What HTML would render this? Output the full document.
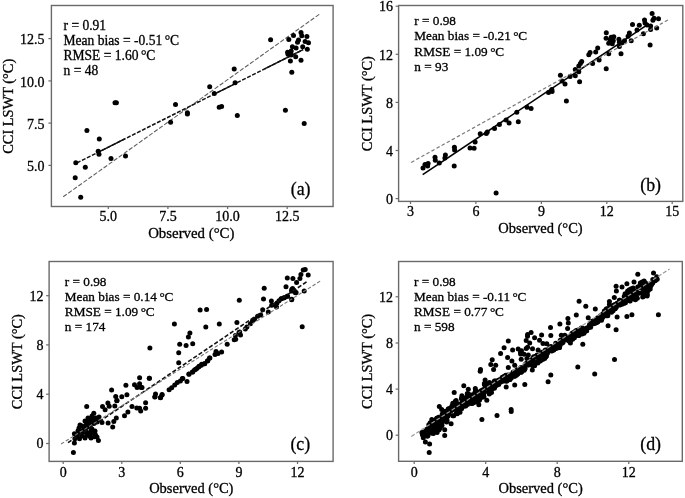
<!DOCTYPE html><html><head><meta charset="utf-8"><style>html,body{margin:0;padding:0;background:#fff;width:685px;height:498px;overflow:hidden}svg{display:block;filter:blur(0.3px)}text{font-family:"Liberation Serif", serif;fill:#000;stroke:#000;stroke-width:0.3px}</style></head><body>
<svg width="685" height="498" viewBox="0 0 685 498">
<g><polyline points="63.2,196.8 319.6,14.1" fill="none" stroke="#606060" stroke-width="1.1" stroke-dasharray="4.4 1.8"/><polyline points="76.9,162.9 303.1,49.6" fill="none" stroke="#111" stroke-width="1.5" stroke-dasharray="4 1.6"/><polyline points="98.5,152.1 124.8,138.9" fill="none" stroke="#111" stroke-width="1.5" /><polyline points="214.8,93.8 234.9,83.8" fill="none" stroke="#111" stroke-width="1.5" /><polyline points="264.6,68.9 303.1,49.6" fill="none" stroke="#111" stroke-width="1.5" /><circle cx="115.0" cy="102.7" r="2.50"/><circle cx="116.4" cy="102.8" r="2.50"/><circle cx="175.5" cy="104.4" r="2.50"/><circle cx="86.9" cy="130.5" r="2.50"/><circle cx="99.3" cy="138.9" r="2.50"/><circle cx="98.2" cy="151.2" r="2.50"/><circle cx="99.0" cy="154.3" r="2.50"/><circle cx="111.0" cy="158.5" r="2.50"/><circle cx="125.5" cy="155.9" r="2.50"/><circle cx="75.8" cy="162.7" r="2.50"/><circle cx="85.3" cy="167.2" r="2.50"/><circle cx="75.2" cy="177.8" r="2.50"/><circle cx="80.7" cy="197.2" r="2.50"/><circle cx="170.6" cy="122.3" r="2.50"/><circle cx="187.4" cy="112.8" r="2.50"/><circle cx="187.4" cy="114.1" r="2.50"/><circle cx="288.8" cy="39.5" r="2.50"/><circle cx="293.5" cy="35.4" r="2.50"/><circle cx="301.0" cy="32.4" r="2.50"/><circle cx="301.8" cy="35.8" r="2.50"/><circle cx="306.9" cy="36.4" r="2.50"/><circle cx="298.5" cy="39.9" r="2.50"/><circle cx="297.5" cy="42.3" r="2.50"/><circle cx="305.1" cy="41.5" r="2.50"/><circle cx="308.5" cy="42.7" r="2.50"/><circle cx="292.4" cy="46.8" r="2.50"/><circle cx="296.1" cy="47.9" r="2.50"/><circle cx="302.7" cy="46.7" r="2.50"/><circle cx="307.3" cy="49.3" r="2.50"/><circle cx="287.6" cy="52.3" r="2.50"/><circle cx="291.2" cy="51.1" r="2.50"/><circle cx="288.0" cy="54.3" r="2.50"/><circle cx="291.2" cy="55.1" r="2.50"/><circle cx="295.7" cy="56.7" r="2.50"/><circle cx="290.4" cy="61.1" r="2.50"/><circle cx="301.0" cy="60.3" r="2.50"/><circle cx="291.8" cy="72.2" r="2.50"/><circle cx="270.6" cy="39.7" r="2.50"/><circle cx="234.2" cy="69.1" r="2.50"/><circle cx="235.1" cy="82.8" r="2.50"/><circle cx="209.7" cy="86.7" r="2.50"/><circle cx="214.3" cy="93.6" r="2.50"/><circle cx="219.2" cy="107.3" r="2.50"/><circle cx="221.6" cy="106.6" r="2.50"/><circle cx="237.3" cy="115.5" r="2.50"/><circle cx="285.4" cy="110.2" r="2.50"/><circle cx="304.2" cy="123.4" r="2.50"/><rect x="51.4" y="5.5" width="281.7" height="201.0" fill="none" stroke="#6a6a6a" stroke-width="1.4"/><line x1="108.3" y1="206.5" x2="108.3" y2="209.1" stroke="#6a6a6a" stroke-width="1.2"/><text x="108.3" y="221.3" font-size="14" text-anchor="middle">5.0</text><line x1="167.9" y1="206.5" x2="167.9" y2="209.1" stroke="#6a6a6a" stroke-width="1.2"/><text x="167.9" y="221.3" font-size="14" text-anchor="middle">7.5</text><line x1="227.6" y1="206.5" x2="227.6" y2="209.1" stroke="#6a6a6a" stroke-width="1.2"/><text x="227.6" y="221.3" font-size="14" text-anchor="middle">10.0</text><line x1="287.2" y1="206.5" x2="287.2" y2="209.1" stroke="#6a6a6a" stroke-width="1.2"/><text x="287.2" y="221.3" font-size="14" text-anchor="middle">12.5</text><line x1="48.4" y1="165.4" x2="51.4" y2="165.4" stroke="#6a6a6a" stroke-width="1.2"/><text x="44.5" y="171.0" font-size="14" text-anchor="end">5.0</text><line x1="48.4" y1="123.1" x2="51.4" y2="123.1" stroke="#6a6a6a" stroke-width="1.2"/><text x="44.5" y="128.7" font-size="14" text-anchor="end">7.5</text><line x1="48.4" y1="80.9" x2="51.4" y2="80.9" stroke="#6a6a6a" stroke-width="1.2"/><text x="44.5" y="86.5" font-size="14" text-anchor="end">10.0</text><line x1="48.4" y1="38.6" x2="51.4" y2="38.6" stroke="#6a6a6a" stroke-width="1.2"/><text x="44.5" y="44.2" font-size="14" text-anchor="end">12.5</text><text x="191.3" y="238.0" font-size="14.85" text-anchor="middle">Observed (°C)</text><text transform="translate(12.5,106.3) rotate(-90)" font-size="14.40" text-anchor="middle">CCI LSWT (°C)</text><text x="63.5" y="29.9" font-size="13.55">r = 0.91</text><text x="63.5" y="44.9" font-size="13.55">Mean bias = -0.51 <tspan dx="-0.8">°</tspan><tspan dx="-0.3">C</tspan></text><text x="63.5" y="59.9" font-size="13.55">RMSE = 1.60 <tspan dx="-0.8">°</tspan><tspan dx="-0.3">C</tspan></text><text x="63.5" y="74.9" font-size="13.55">n = 48</text><text transform="translate(300.6,194.6) scale(0.94,1)" font-size="19" text-anchor="middle">(a)</text></g>
<g><polyline points="422.7,174.6 645.3,26.2" fill="none" stroke="#000" stroke-width="1.6" /><circle cx="652.1" cy="13.4" r="2.50"/><circle cx="654.0" cy="18.3" r="2.50"/><circle cx="658.5" cy="18.8" r="2.50"/><circle cx="652.9" cy="20.3" r="2.50"/><circle cx="644.5" cy="20.1" r="2.50"/><circle cx="645.0" cy="22.9" r="2.50"/><circle cx="647.0" cy="24.9" r="2.50"/><circle cx="650.6" cy="25.9" r="2.50"/><circle cx="650.6" cy="29.5" r="2.50"/><circle cx="656.7" cy="28.0" r="2.50"/><circle cx="632.5" cy="24.6" r="2.50"/><circle cx="639.3" cy="25.2" r="2.50"/><circle cx="637.0" cy="30.0" r="2.50"/><circle cx="643.4" cy="33.8" r="2.50"/><circle cx="629.4" cy="33.1" r="2.50"/><circle cx="628.1" cy="36.2" r="2.50"/><circle cx="631.2" cy="40.8" r="2.50"/><circle cx="624.5" cy="40.8" r="2.50"/><circle cx="606.3" cy="32.8" r="2.50"/><circle cx="606.1" cy="38.2" r="2.50"/><circle cx="611.2" cy="37.2" r="2.50"/><circle cx="613.8" cy="36.7" r="2.50"/><circle cx="610.2" cy="39.7" r="2.50"/><circle cx="613.3" cy="40.8" r="2.50"/><circle cx="608.7" cy="43.3" r="2.50"/><circle cx="612.3" cy="43.8" r="2.50"/><circle cx="618.9" cy="39.2" r="2.50"/><circle cx="619.4" cy="42.3" r="2.50"/><circle cx="622.0" cy="42.8" r="2.50"/><circle cx="619.4" cy="46.4" r="2.50"/><circle cx="650.1" cy="45.1" r="2.50"/><circle cx="621.0" cy="53.8" r="2.50"/><circle cx="608.7" cy="53.8" r="2.50"/><circle cx="597.7" cy="48.0" r="2.50"/><circle cx="595.7" cy="52.1" r="2.50"/><circle cx="590.1" cy="52.5" r="2.50"/><circle cx="588.8" cy="54.8" r="2.50"/><circle cx="599.1" cy="59.9" r="2.50"/><circle cx="592.6" cy="63.5" r="2.50"/><circle cx="606.2" cy="68.8" r="2.50"/><circle cx="581.7" cy="61.5" r="2.50"/><circle cx="580.4" cy="63.5" r="2.50"/><circle cx="578.8" cy="66.1" r="2.50"/><circle cx="575.3" cy="69.6" r="2.50"/><circle cx="578.8" cy="71.7" r="2.50"/><circle cx="575.3" cy="75.8" r="2.50"/><circle cx="570.1" cy="76.6" r="2.50"/><circle cx="560.4" cy="75.3" r="2.50"/><circle cx="562.0" cy="80.9" r="2.50"/><circle cx="565.0" cy="84.1" r="2.50"/><circle cx="579.6" cy="81.7" r="2.50"/><circle cx="551.8" cy="89.6" r="2.50"/><circle cx="548.5" cy="92.4" r="2.50"/><circle cx="527.0" cy="107.2" r="2.50"/><circle cx="531.1" cy="108.5" r="2.50"/><circle cx="516.8" cy="112.3" r="2.50"/><circle cx="518.3" cy="121.8" r="2.50"/><circle cx="506.1" cy="120.0" r="2.50"/><circle cx="509.1" cy="123.0" r="2.50"/><circle cx="499.4" cy="124.6" r="2.50"/><circle cx="494.5" cy="128.4" r="2.50"/><circle cx="487.3" cy="132.0" r="2.50"/><circle cx="486.3" cy="133.5" r="2.50"/><circle cx="480.2" cy="133.7" r="2.50"/><circle cx="475.1" cy="141.9" r="2.50"/><circle cx="470.0" cy="148.0" r="2.50"/><circle cx="474.1" cy="148.3" r="2.50"/><circle cx="454.4" cy="147.3" r="2.50"/><circle cx="454.6" cy="149.9" r="2.50"/><circle cx="445.4" cy="155.0" r="2.50"/><circle cx="444.9" cy="158.0" r="2.50"/><circle cx="435.0" cy="157.2" r="2.50"/><circle cx="423.0" cy="168.0" r="2.50"/><circle cx="425.0" cy="164.4" r="2.50"/><circle cx="428.1" cy="163.4" r="2.50"/><circle cx="427.6" cy="166.0" r="2.50"/><circle cx="435.3" cy="160.3" r="2.50"/><circle cx="439.3" cy="162.9" r="2.50"/><circle cx="454.2" cy="166.0" r="2.50"/><circle cx="496.1" cy="192.9" r="2.50"/><circle cx="552.1" cy="91.4" r="2.50"/><circle cx="566.4" cy="101.0" r="2.50"/><polyline points="411.2,162.4 668.7,19.6" fill="none" stroke="#7a7a7a" stroke-width="1.2" stroke-dasharray="3.5 2.3"/><rect x="398.6" y="5.5" width="284.2" height="195.9" fill="none" stroke="#6a6a6a" stroke-width="1.4"/><line x1="410.5" y1="201.4" x2="410.5" y2="204.0" stroke="#6a6a6a" stroke-width="1.2"/><text x="410.5" y="215.6" font-size="14" text-anchor="middle">3</text><line x1="475.9" y1="201.4" x2="475.9" y2="204.0" stroke="#6a6a6a" stroke-width="1.2"/><text x="475.9" y="215.6" font-size="14" text-anchor="middle">6</text><line x1="541.4" y1="201.4" x2="541.4" y2="204.0" stroke="#6a6a6a" stroke-width="1.2"/><text x="541.4" y="215.6" font-size="14" text-anchor="middle">9</text><line x1="606.8" y1="201.4" x2="606.8" y2="204.0" stroke="#6a6a6a" stroke-width="1.2"/><text x="606.8" y="215.6" font-size="14" text-anchor="middle">12</text><line x1="672.2" y1="201.4" x2="672.2" y2="204.0" stroke="#6a6a6a" stroke-width="1.2"/><text x="672.2" y="215.6" font-size="14" text-anchor="middle">15</text><line x1="395.6" y1="198.6" x2="398.6" y2="198.6" stroke="#6a6a6a" stroke-width="1.2"/><text x="393.1" y="203.8" font-size="14" text-anchor="end">0</text><line x1="395.6" y1="150.5" x2="398.6" y2="150.5" stroke="#6a6a6a" stroke-width="1.2"/><text x="393.1" y="155.7" font-size="14" text-anchor="end">4</text><line x1="395.6" y1="102.4" x2="398.6" y2="102.4" stroke="#6a6a6a" stroke-width="1.2"/><text x="393.1" y="107.6" font-size="14" text-anchor="end">8</text><line x1="395.6" y1="54.3" x2="398.6" y2="54.3" stroke="#6a6a6a" stroke-width="1.2"/><text x="393.1" y="59.5" font-size="14" text-anchor="end">12</text><line x1="395.6" y1="6.2" x2="398.6" y2="6.2" stroke="#6a6a6a" stroke-width="1.2"/><text x="393.1" y="11.4" font-size="14" text-anchor="end">16</text><text x="540.5" y="233.0" font-size="14.50" text-anchor="middle">Observed (°C)</text><text transform="translate(372.0,103.7) rotate(-90)" font-size="14.40" text-anchor="middle">CCI LSWT (°C)</text><text x="414.3" y="25.3" font-size="13.25">r = 0.98</text><text x="414.3" y="40.4" font-size="13.25">Mean bias = -0.21 <tspan dx="-0.8">°</tspan><tspan dx="-0.3">C</tspan></text><text x="414.3" y="55.5" font-size="13.25">RMSE = 1.09 <tspan dx="-0.8">°</tspan><tspan dx="-0.3">C</tspan></text><text x="414.3" y="70.6" font-size="13.25">n = 93</text><text transform="translate(650.6,190.8) scale(0.94,1)" font-size="19" text-anchor="middle">(b)</text></g>
<g><circle cx="86.7" cy="406.6" r="2.50"/><circle cx="93.8" cy="413.3" r="2.50"/><circle cx="102.5" cy="406.6" r="2.50"/><circle cx="105.1" cy="409.7" r="2.50"/><circle cx="107.9" cy="403.1" r="2.50"/><circle cx="109.2" cy="406.3" r="2.50"/><circle cx="114.8" cy="406.1" r="2.50"/><circle cx="116.8" cy="400.8" r="2.50"/><circle cx="124.5" cy="415.8" r="2.50"/><circle cx="116.3" cy="417.9" r="2.50"/><circle cx="113.8" cy="421.5" r="2.50"/><circle cx="108.1" cy="423.0" r="2.50"/><circle cx="102.0" cy="422.5" r="2.50"/><circle cx="112.7" cy="427.1" r="2.50"/><circle cx="95.9" cy="417.9" r="2.50"/><circle cx="90.3" cy="418.4" r="2.50"/><circle cx="87.7" cy="421.5" r="2.50"/><circle cx="93.8" cy="423.5" r="2.50"/><circle cx="88.2" cy="424.0" r="2.50"/><circle cx="82.1" cy="426.1" r="2.50"/><circle cx="79.0" cy="428.1" r="2.50"/><circle cx="78.0" cy="430.7" r="2.50"/><circle cx="90.3" cy="427.6" r="2.50"/><circle cx="85.7" cy="430.7" r="2.50"/><circle cx="90.8" cy="431.7" r="2.50"/><circle cx="74.4" cy="433.7" r="2.50"/><circle cx="86.7" cy="435.3" r="2.50"/><circle cx="95.4" cy="434.7" r="2.50"/><circle cx="89.7" cy="436.3" r="2.50"/><circle cx="94.3" cy="436.8" r="2.50"/><circle cx="74.9" cy="438.8" r="2.50"/><circle cx="79.5" cy="438.8" r="2.50"/><circle cx="98.4" cy="440.4" r="2.50"/><circle cx="74.4" cy="442.9" r="2.50"/><circle cx="73.4" cy="452.5" r="2.50"/><circle cx="84.0" cy="428.0" r="2.50"/><circle cx="87.0" cy="427.0" r="2.50"/><circle cx="92.0" cy="429.0" r="2.50"/><circle cx="84.0" cy="432.0" r="2.50"/><circle cx="88.0" cy="433.0" r="2.50"/><circle cx="93.0" cy="433.0" r="2.50"/><circle cx="81.0" cy="431.0" r="2.50"/><circle cx="90.0" cy="424.0" r="2.50"/><circle cx="86.0" cy="425.0" r="2.50"/><circle cx="92.0" cy="420.0" r="2.50"/><circle cx="89.0" cy="421.0" r="2.50"/><circle cx="97.0" cy="437.0" r="2.50"/><circle cx="82.0" cy="436.0" r="2.50"/><circle cx="80.0" cy="434.0" r="2.50"/><circle cx="77.0" cy="436.0" r="2.50"/><circle cx="85.0" cy="438.0" r="2.50"/><circle cx="91.0" cy="438.0" r="2.50"/><circle cx="95.0" cy="431.0" r="2.50"/><circle cx="85.0" cy="421.0" r="2.50"/><circle cx="98.0" cy="420.0" r="2.50"/><circle cx="99.0" cy="417.0" r="2.50"/><circle cx="80.0" cy="425.0" r="2.50"/><circle cx="94.0" cy="420.0" r="2.50"/><circle cx="97.0" cy="422.0" r="2.50"/><circle cx="92.0" cy="416.0" r="2.50"/><circle cx="88.0" cy="418.0" r="2.50"/><circle cx="111.6" cy="390.1" r="2.50"/><circle cx="125.9" cy="385.3" r="2.50"/><circle cx="115.7" cy="396.5" r="2.50"/><circle cx="121.8" cy="396.7" r="2.50"/><circle cx="126.9" cy="394.8" r="2.50"/><circle cx="139.6" cy="377.7" r="2.50"/><circle cx="149.3" cy="378.2" r="2.50"/><circle cx="134.5" cy="384.8" r="2.50"/><circle cx="139.6" cy="383.8" r="2.50"/><circle cx="137.1" cy="387.4" r="2.50"/><circle cx="141.2" cy="387.6" r="2.50"/><circle cx="117.0" cy="400.5" r="2.50"/><circle cx="132.0" cy="406.6" r="2.50"/><circle cx="136.8" cy="408.0" r="2.50"/><circle cx="139.6" cy="408.3" r="2.50"/><circle cx="140.7" cy="410.9" r="2.50"/><circle cx="145.6" cy="402.7" r="2.50"/><circle cx="145.6" cy="408.3" r="2.50"/><circle cx="127.9" cy="411.9" r="2.50"/><circle cx="155.5" cy="394.0" r="2.50"/><circle cx="155.0" cy="396.8" r="2.50"/><circle cx="162.1" cy="394.5" r="2.50"/><circle cx="160.6" cy="397.4" r="2.50"/><circle cx="154.8" cy="396.9" r="2.50"/><circle cx="162.0" cy="394.9" r="2.50"/><circle cx="160.4" cy="397.7" r="2.50"/><circle cx="169.1" cy="389.7" r="2.50"/><circle cx="171.7" cy="387.7" r="2.50"/><circle cx="174.7" cy="385.1" r="2.50"/><circle cx="177.3" cy="382.6" r="2.50"/><circle cx="180.4" cy="381.1" r="2.50"/><circle cx="182.4" cy="378.5" r="2.50"/><circle cx="187.0" cy="381.6" r="2.50"/><circle cx="189.0" cy="374.2" r="2.50"/><circle cx="192.6" cy="371.9" r="2.50"/><circle cx="195.7" cy="369.3" r="2.50"/><circle cx="198.8" cy="366.8" r="2.50"/><circle cx="201.3" cy="365.2" r="2.50"/><circle cx="204.4" cy="363.7" r="2.50"/><circle cx="207.4" cy="361.1" r="2.50"/><circle cx="209.5" cy="358.1" r="2.50"/><circle cx="142.0" cy="387.5" r="2.50"/><circle cx="149.4" cy="378.3" r="2.50"/><circle cx="188.9" cy="374.1" r="2.50"/><circle cx="192.5" cy="372.1" r="2.50"/><circle cx="194.5" cy="369.9" r="2.50"/><circle cx="197.1" cy="368.3" r="2.50"/><circle cx="199.1" cy="366.3" r="2.50"/><circle cx="201.7" cy="364.2" r="2.50"/><circle cx="204.7" cy="363.7" r="2.50"/><circle cx="207.8" cy="360.7" r="2.50"/><circle cx="209.9" cy="358.1" r="2.50"/><circle cx="215.0" cy="354.5" r="2.50"/><circle cx="216.0" cy="351.5" r="2.50"/><circle cx="218.0" cy="353.5" r="2.50"/><circle cx="221.6" cy="352.0" r="2.50"/><circle cx="227.2" cy="344.3" r="2.50"/><circle cx="234.2" cy="339.7" r="2.50"/><circle cx="235.4" cy="335.6" r="2.50"/><circle cx="239.0" cy="332.6" r="2.50"/><circle cx="182.8" cy="378.5" r="2.50"/><circle cx="189.9" cy="333.1" r="2.50"/><circle cx="188.4" cy="337.0" r="2.50"/><circle cx="179.7" cy="344.3" r="2.50"/><circle cx="186.1" cy="345.5" r="2.50"/><circle cx="192.7" cy="343.8" r="2.50"/><circle cx="178.7" cy="352.7" r="2.50"/><circle cx="178.7" cy="362.7" r="2.50"/><circle cx="174.4" cy="324.1" r="2.50"/><circle cx="149.9" cy="348.1" r="2.50"/><circle cx="200.1" cy="310.1" r="2.50"/><circle cx="206.6" cy="309.6" r="2.50"/><circle cx="205.8" cy="327.0" r="2.50"/><circle cx="219.3" cy="323.9" r="2.50"/><circle cx="236.9" cy="322.4" r="2.50"/><circle cx="239.3" cy="300.2" r="2.50"/><circle cx="264.2" cy="288.3" r="2.50"/><circle cx="286.0" cy="286.8" r="2.50"/><circle cx="263.5" cy="299.1" r="2.50"/><circle cx="271.4" cy="301.1" r="2.50"/><circle cx="271.7" cy="305.2" r="2.50"/><circle cx="275.0" cy="304.9" r="2.50"/><circle cx="277.0" cy="302.9" r="2.50"/><circle cx="279.0" cy="300.8" r="2.50"/><circle cx="281.6" cy="298.8" r="2.50"/><circle cx="284.2" cy="297.8" r="2.50"/><circle cx="287.2" cy="296.2" r="2.50"/><circle cx="276.5" cy="307.0" r="2.50"/><circle cx="291.8" cy="299.3" r="2.50"/><circle cx="291.8" cy="289.6" r="2.50"/><circle cx="293.4" cy="291.1" r="2.50"/><circle cx="295.4" cy="292.7" r="2.50"/><circle cx="262.7" cy="309.7" r="2.50"/><circle cx="268.3" cy="312.1" r="2.50"/><circle cx="260.7" cy="315.1" r="2.50"/><circle cx="257.6" cy="316.2" r="2.50"/><circle cx="254.5" cy="319.2" r="2.50"/><circle cx="252.5" cy="320.8" r="2.50"/><circle cx="250.4" cy="323.8" r="2.50"/><circle cx="246.9" cy="326.9" r="2.50"/><circle cx="245.3" cy="328.9" r="2.50"/><circle cx="239.7" cy="332.0" r="2.50"/><circle cx="303.2" cy="270.0" r="2.50"/><circle cx="305.2" cy="269.5" r="2.50"/><circle cx="308.2" cy="275.1" r="2.50"/><circle cx="300.9" cy="274.6" r="2.50"/><circle cx="299.9" cy="278.6" r="2.50"/><circle cx="296.6" cy="282.6" r="2.50"/><circle cx="292.9" cy="278.6" r="2.50"/><circle cx="287.3" cy="278.1" r="2.50"/><circle cx="292.6" cy="288.6" r="2.50"/><circle cx="291.6" cy="291.1" r="2.50"/><circle cx="294.1" cy="290.6" r="2.50"/><circle cx="296.1" cy="292.6" r="2.50"/><circle cx="304.2" cy="290.9" r="2.50"/><circle cx="291.6" cy="299.7" r="2.50"/><circle cx="287.6" cy="296.2" r="2.50"/><circle cx="284.1" cy="297.7" r="2.50"/><circle cx="281.1" cy="298.7" r="2.50"/><circle cx="302.2" cy="326.8" r="2.50"/><circle cx="240.5" cy="335.1" r="2.50"/><circle cx="235.7" cy="339.2" r="2.50"/><polyline points="68.0,442.7 307.7,281.1" fill="none" stroke="#111" stroke-width="1.6" stroke-dasharray="4.2 2.1"/><polyline points="61.1,444.0 320.2,281.1" fill="none" stroke="#777" stroke-width="1.1" stroke-dasharray="3.5 2"/><rect x="49.1" y="261.5" width="284.0" height="199.9" fill="none" stroke="#6a6a6a" stroke-width="1.4"/><line x1="63.2" y1="461.4" x2="63.2" y2="464.0" stroke="#6a6a6a" stroke-width="1.2"/><text x="63.2" y="476.5" font-size="14" text-anchor="middle">0</text><line x1="121.8" y1="461.4" x2="121.8" y2="464.0" stroke="#6a6a6a" stroke-width="1.2"/><text x="121.8" y="476.5" font-size="14" text-anchor="middle">3</text><line x1="180.3" y1="461.4" x2="180.3" y2="464.0" stroke="#6a6a6a" stroke-width="1.2"/><text x="180.3" y="476.5" font-size="14" text-anchor="middle">6</text><line x1="238.9" y1="461.4" x2="238.9" y2="464.0" stroke="#6a6a6a" stroke-width="1.2"/><text x="238.9" y="476.5" font-size="14" text-anchor="middle">9</text><line x1="297.5" y1="461.4" x2="297.5" y2="464.0" stroke="#6a6a6a" stroke-width="1.2"/><text x="297.5" y="476.5" font-size="14" text-anchor="middle">12</text><line x1="46.1" y1="443.5" x2="49.1" y2="443.5" stroke="#6a6a6a" stroke-width="1.2"/><text x="43.6" y="448.3" font-size="14" text-anchor="end">0</text><line x1="46.1" y1="394.2" x2="49.1" y2="394.2" stroke="#6a6a6a" stroke-width="1.2"/><text x="43.6" y="399.0" font-size="14" text-anchor="end">4</text><line x1="46.1" y1="344.9" x2="49.1" y2="344.9" stroke="#6a6a6a" stroke-width="1.2"/><text x="43.6" y="349.7" font-size="14" text-anchor="end">8</text><line x1="46.1" y1="295.7" x2="49.1" y2="295.7" stroke="#6a6a6a" stroke-width="1.2"/><text x="43.6" y="300.5" font-size="14" text-anchor="end">12</text><text x="191.3" y="493.0" font-size="14.50" text-anchor="middle">Observed (°C)</text><text transform="translate(22.4,361.7) rotate(-90)" font-size="14.40" text-anchor="middle">CCI LSWT (°C)</text><text x="64.8" y="286.0" font-size="13.25">r = 0.98</text><text x="64.8" y="301.0" font-size="13.25">Mean bias = 0.14 <tspan dx="-0.8">°</tspan><tspan dx="-0.3">C</tspan></text><text x="64.8" y="316.0" font-size="13.25">RMSE = 1.09 <tspan dx="-0.8">°</tspan><tspan dx="-0.3">C</tspan></text><text x="64.8" y="331.0" font-size="13.25">n = 174</text><text transform="translate(300.3,450.4) scale(0.94,1)" font-size="19" text-anchor="middle">(c)</text></g>
<g><circle cx="429.2" cy="452.4" r="2.50"/><circle cx="444.7" cy="429.7" r="2.50"/><circle cx="444.7" cy="435.4" r="2.50"/><circle cx="451.1" cy="423.7" r="2.50"/><circle cx="454.2" cy="392.5" r="2.50"/><circle cx="439.3" cy="406.4" r="2.50"/><circle cx="441.7" cy="409.5" r="2.50"/><circle cx="443.5" cy="411.9" r="2.50"/><circle cx="423.3" cy="437.8" r="2.50"/><circle cx="425.4" cy="442.0" r="2.50"/><circle cx="429.6" cy="444.1" r="2.50"/><circle cx="508.3" cy="341.1" r="2.50"/><circle cx="504.1" cy="347.7" r="2.50"/><circle cx="512.6" cy="350.1" r="2.50"/><circle cx="518.2" cy="349.1" r="2.50"/><circle cx="500.6" cy="353.4" r="2.50"/><circle cx="507.6" cy="357.6" r="2.50"/><circle cx="511.9" cy="361.1" r="2.50"/><circle cx="514.7" cy="365.3" r="2.50"/><circle cx="508.3" cy="367.4" r="2.50"/><circle cx="492.2" cy="359.7" r="2.50"/><circle cx="490.8" cy="364.6" r="2.50"/><circle cx="495.7" cy="365.3" r="2.50"/><circle cx="493.6" cy="369.5" r="2.50"/><circle cx="480.2" cy="371.2" r="2.50"/><circle cx="485.1" cy="380.1" r="2.50"/><circle cx="484.4" cy="383.6" r="2.50"/><circle cx="463.8" cy="385.7" r="2.50"/><circle cx="468.3" cy="389.2" r="2.50"/><circle cx="475.3" cy="388.5" r="2.50"/><circle cx="486.8" cy="400.2" r="2.50"/><circle cx="514.7" cy="385.0" r="2.50"/><circle cx="506.2" cy="387.1" r="2.50"/><circle cx="478.8" cy="404.7" r="2.50"/><circle cx="511.1" cy="409.6" r="2.50"/><circle cx="481.9" cy="419.5" r="2.50"/><circle cx="497.0" cy="415.4" r="2.50"/><circle cx="511.2" cy="411.5" r="2.50"/><circle cx="524.8" cy="384.4" r="2.50"/><circle cx="548.1" cy="381.8" r="2.50"/><circle cx="576.3" cy="314.9" r="2.50"/><circle cx="567.9" cy="318.4" r="2.50"/><circle cx="568.3" cy="322.9" r="2.50"/><circle cx="559.9" cy="324.1" r="2.50"/><circle cx="550.5" cy="327.6" r="2.50"/><circle cx="567.6" cy="328.6" r="2.50"/><circle cx="550.8" cy="335.6" r="2.50"/><circle cx="561.3" cy="335.3" r="2.50"/><circle cx="564.8" cy="335.3" r="2.50"/><circle cx="531.1" cy="332.5" r="2.50"/><circle cx="527.6" cy="334.6" r="2.50"/><circle cx="534.6" cy="337.8" r="2.50"/><circle cx="541.6" cy="335.0" r="2.50"/><circle cx="539.5" cy="340.2" r="2.50"/><circle cx="526.2" cy="340.6" r="2.50"/><circle cx="529.7" cy="343.0" r="2.50"/><circle cx="543.0" cy="343.5" r="2.50"/><circle cx="546.8" cy="343.7" r="2.50"/><circle cx="527.6" cy="347.3" r="2.50"/><circle cx="532.5" cy="348.7" r="2.50"/><circle cx="538.1" cy="350.1" r="2.50"/><circle cx="520.5" cy="352.2" r="2.50"/><circle cx="524.1" cy="354.3" r="2.50"/><circle cx="528.3" cy="355.0" r="2.50"/><circle cx="521.2" cy="359.2" r="2.50"/><circle cx="570.4" cy="343.0" r="2.50"/><circle cx="577.8" cy="366.9" r="2.50"/><circle cx="550.8" cy="374.9" r="2.50"/><circle cx="526.2" cy="348.5" r="2.50"/><circle cx="520.6" cy="354.1" r="2.50"/><circle cx="480.5" cy="369.6" r="2.50"/><circle cx="521.5" cy="350.7" r="2.50"/><circle cx="527.5" cy="336.2" r="2.50"/><circle cx="526.9" cy="358.5" r="2.50"/><circle cx="532.3" cy="369.9" r="2.50"/><circle cx="533.6" cy="356.7" r="2.50"/><circle cx="585.8" cy="306.2" r="2.50"/><circle cx="588.2" cy="317.7" r="2.50"/><circle cx="582.8" cy="344.2" r="2.50"/><circle cx="594.7" cy="374.0" r="2.50"/><circle cx="614.5" cy="359.5" r="2.50"/><circle cx="608.1" cy="325.7" r="2.50"/><circle cx="616.1" cy="329.8" r="2.50"/><circle cx="637.8" cy="274.2" r="2.50"/><circle cx="634.0" cy="281.9" r="2.50"/><circle cx="626.9" cy="283.8" r="2.50"/><circle cx="622.0" cy="286.9" r="2.50"/><circle cx="616.1" cy="286.2" r="2.50"/><circle cx="616.4" cy="291.1" r="2.50"/><circle cx="614.3" cy="297.4" r="2.50"/><circle cx="609.4" cy="301.6" r="2.50"/><circle cx="609.4" cy="304.4" r="2.50"/><circle cx="579.1" cy="301.2" r="2.50"/><circle cx="595.3" cy="309.1" r="2.50"/><circle cx="617.1" cy="317.1" r="2.50"/><circle cx="626.9" cy="316.4" r="2.50"/><circle cx="631.9" cy="314.7" r="2.50"/><circle cx="653.5" cy="273.0" r="2.50"/><circle cx="656.7" cy="276.8" r="2.50"/><circle cx="652.8" cy="279.6" r="2.50"/><circle cx="650.2" cy="289.0" r="2.50"/><circle cx="647.1" cy="296.0" r="2.50"/><circle cx="658.4" cy="314.7" r="2.50"/><circle cx="604.3" cy="311.1" r="2.50"/><circle cx="653.9" cy="280.7" r="2.50"/><circle cx="498.3" cy="380.3" r="2.50"/><circle cx="575.3" cy="331.4" r="2.50"/><circle cx="548.2" cy="350.2" r="2.50"/><circle cx="435.7" cy="426.1" r="2.50"/><circle cx="430.8" cy="427.6" r="2.50"/><circle cx="438.5" cy="417.3" r="2.50"/><circle cx="522.0" cy="371.0" r="2.50"/><circle cx="451.2" cy="407.7" r="2.50"/><circle cx="569.8" cy="341.1" r="2.50"/><circle cx="557.9" cy="344.5" r="2.50"/><circle cx="651.9" cy="283.1" r="2.50"/><circle cx="624.2" cy="296.5" r="2.50"/><circle cx="456.0" cy="402.0" r="2.50"/><circle cx="494.6" cy="387.0" r="2.50"/><circle cx="464.6" cy="402.3" r="2.50"/><circle cx="572.5" cy="335.1" r="2.50"/><circle cx="551.0" cy="346.6" r="2.50"/><circle cx="436.0" cy="420.9" r="2.50"/><circle cx="582.2" cy="330.3" r="2.50"/><circle cx="496.0" cy="384.4" r="2.50"/><circle cx="528.7" cy="363.1" r="2.50"/><circle cx="609.1" cy="311.9" r="2.50"/><circle cx="479.5" cy="396.8" r="2.50"/><circle cx="545.7" cy="356.7" r="2.50"/><circle cx="593.8" cy="321.3" r="2.50"/><circle cx="652.8" cy="282.4" r="2.50"/><circle cx="520.5" cy="371.4" r="2.50"/><circle cx="457.8" cy="406.6" r="2.50"/><circle cx="431.2" cy="431.0" r="2.50"/><circle cx="602.1" cy="317.5" r="2.50"/><circle cx="628.2" cy="293.9" r="2.50"/><circle cx="585.7" cy="329.3" r="2.50"/><circle cx="558.6" cy="344.6" r="2.50"/><circle cx="619.8" cy="305.1" r="2.50"/><circle cx="533.7" cy="363.6" r="2.50"/><circle cx="436.3" cy="428.7" r="2.50"/><circle cx="574.4" cy="337.8" r="2.50"/><circle cx="615.6" cy="305.1" r="2.50"/><circle cx="512.9" cy="375.3" r="2.50"/><circle cx="427.3" cy="431.1" r="2.50"/><circle cx="461.6" cy="397.9" r="2.50"/><circle cx="435.9" cy="430.1" r="2.50"/><circle cx="452.5" cy="406.8" r="2.50"/><circle cx="514.1" cy="375.9" r="2.50"/><circle cx="441.0" cy="420.5" r="2.50"/><circle cx="551.4" cy="351.1" r="2.50"/><circle cx="614.9" cy="308.4" r="2.50"/><circle cx="487.6" cy="388.3" r="2.50"/><circle cx="506.5" cy="381.2" r="2.50"/><circle cx="647.5" cy="284.4" r="2.50"/><circle cx="463.5" cy="398.0" r="2.50"/><circle cx="477.0" cy="396.7" r="2.50"/><circle cx="560.7" cy="342.0" r="2.50"/><circle cx="423.0" cy="433.1" r="2.50"/><circle cx="509.0" cy="377.4" r="2.50"/><circle cx="646.5" cy="291.3" r="2.50"/><circle cx="543.4" cy="356.6" r="2.50"/><circle cx="581.2" cy="328.0" r="2.50"/><circle cx="633.8" cy="297.3" r="2.50"/><circle cx="627.9" cy="299.5" r="2.50"/><circle cx="514.4" cy="372.5" r="2.50"/><circle cx="446.4" cy="417.7" r="2.50"/><circle cx="436.7" cy="418.2" r="2.50"/><circle cx="471.2" cy="394.9" r="2.50"/><circle cx="502.1" cy="377.5" r="2.50"/><circle cx="422.1" cy="432.5" r="2.50"/><circle cx="445.9" cy="414.5" r="2.50"/><circle cx="428.0" cy="435.4" r="2.50"/><circle cx="566.6" cy="337.1" r="2.50"/><circle cx="481.4" cy="393.0" r="2.50"/><circle cx="507.8" cy="374.9" r="2.50"/><circle cx="621.9" cy="304.2" r="2.50"/><circle cx="531.7" cy="362.9" r="2.50"/><circle cx="442.2" cy="414.2" r="2.50"/><circle cx="502.7" cy="378.2" r="2.50"/><circle cx="617.2" cy="303.3" r="2.50"/><circle cx="427.4" cy="436.3" r="2.50"/><circle cx="546.4" cy="350.2" r="2.50"/><circle cx="549.9" cy="347.1" r="2.50"/><circle cx="546.4" cy="356.1" r="2.50"/><circle cx="625.3" cy="299.7" r="2.50"/><circle cx="483.5" cy="390.4" r="2.50"/><circle cx="461.3" cy="408.6" r="2.50"/><circle cx="547.4" cy="353.1" r="2.50"/><circle cx="499.6" cy="379.8" r="2.50"/><circle cx="613.1" cy="310.8" r="2.50"/><circle cx="622.8" cy="302.3" r="2.50"/><circle cx="614.7" cy="307.9" r="2.50"/><circle cx="475.4" cy="397.1" r="2.50"/><circle cx="505.7" cy="375.3" r="2.50"/><circle cx="428.6" cy="427.9" r="2.50"/><circle cx="483.0" cy="394.7" r="2.50"/><circle cx="647.3" cy="288.1" r="2.50"/><circle cx="642.7" cy="297.0" r="2.50"/><circle cx="646.9" cy="287.0" r="2.50"/><circle cx="473.9" cy="394.2" r="2.50"/><circle cx="468.3" cy="395.0" r="2.50"/><circle cx="569.0" cy="341.1" r="2.50"/><circle cx="619.9" cy="302.2" r="2.50"/><circle cx="575.8" cy="335.5" r="2.50"/><circle cx="442.0" cy="422.6" r="2.50"/><circle cx="636.3" cy="296.6" r="2.50"/><circle cx="598.7" cy="319.3" r="2.50"/><circle cx="464.0" cy="406.3" r="2.50"/><circle cx="500.3" cy="382.3" r="2.50"/><circle cx="650.8" cy="284.8" r="2.50"/><circle cx="516.5" cy="375.0" r="2.50"/><circle cx="592.7" cy="321.5" r="2.50"/><circle cx="451.9" cy="406.0" r="2.50"/><circle cx="635.1" cy="297.3" r="2.50"/><circle cx="456.4" cy="412.8" r="2.50"/><circle cx="652.9" cy="282.3" r="2.50"/><circle cx="504.5" cy="379.2" r="2.50"/><circle cx="452.8" cy="403.2" r="2.50"/><circle cx="650.6" cy="285.9" r="2.50"/><circle cx="546.0" cy="356.5" r="2.50"/><circle cx="524.2" cy="370.2" r="2.50"/><circle cx="616.6" cy="304.3" r="2.50"/><circle cx="481.3" cy="392.6" r="2.50"/><circle cx="478.6" cy="397.9" r="2.50"/><circle cx="483.1" cy="391.9" r="2.50"/><circle cx="452.9" cy="415.8" r="2.50"/><circle cx="505.3" cy="378.4" r="2.50"/><circle cx="559.4" cy="347.5" r="2.50"/><circle cx="521.1" cy="372.2" r="2.50"/><circle cx="540.1" cy="357.8" r="2.50"/><circle cx="545.3" cy="350.1" r="2.50"/><circle cx="525.6" cy="364.0" r="2.50"/><circle cx="422.9" cy="434.9" r="2.50"/><circle cx="462.6" cy="402.8" r="2.50"/><circle cx="592.8" cy="322.8" r="2.50"/><circle cx="498.8" cy="382.0" r="2.50"/><circle cx="552.8" cy="349.6" r="2.50"/><circle cx="447.0" cy="416.2" r="2.50"/><circle cx="480.5" cy="393.4" r="2.50"/><circle cx="603.9" cy="315.7" r="2.50"/><circle cx="554.3" cy="348.5" r="2.50"/><circle cx="636.9" cy="291.9" r="2.50"/><circle cx="566.3" cy="339.7" r="2.50"/><circle cx="542.6" cy="357.7" r="2.50"/><circle cx="528.5" cy="365.1" r="2.50"/><circle cx="534.6" cy="365.7" r="2.50"/><circle cx="586.7" cy="330.7" r="2.50"/><circle cx="643.9" cy="284.7" r="2.50"/><circle cx="553.8" cy="349.9" r="2.50"/><circle cx="619.8" cy="300.2" r="2.50"/><circle cx="450.6" cy="411.0" r="2.50"/><circle cx="439.1" cy="419.2" r="2.50"/><circle cx="439.2" cy="425.6" r="2.50"/><circle cx="606.6" cy="315.8" r="2.50"/><circle cx="458.4" cy="409.8" r="2.50"/><circle cx="577.5" cy="330.6" r="2.50"/><circle cx="629.9" cy="300.8" r="2.50"/><circle cx="473.7" cy="402.8" r="2.50"/><circle cx="515.8" cy="372.3" r="2.50"/><circle cx="655.1" cy="280.4" r="2.50"/><circle cx="460.0" cy="404.2" r="2.50"/><circle cx="543.4" cy="354.1" r="2.50"/><circle cx="468.1" cy="396.4" r="2.50"/><circle cx="592.1" cy="321.3" r="2.50"/><circle cx="552.5" cy="347.8" r="2.50"/><circle cx="426.3" cy="430.6" r="2.50"/><circle cx="568.9" cy="338.3" r="2.50"/><circle cx="437.1" cy="432.4" r="2.50"/><circle cx="607.7" cy="315.7" r="2.50"/><circle cx="446.7" cy="412.7" r="2.50"/><circle cx="431.3" cy="432.7" r="2.50"/><circle cx="485.7" cy="384.9" r="2.50"/><circle cx="521.4" cy="371.9" r="2.50"/><circle cx="614.9" cy="305.3" r="2.50"/><circle cx="457.2" cy="413.7" r="2.50"/><circle cx="556.4" cy="347.3" r="2.50"/><circle cx="443.1" cy="412.8" r="2.50"/><circle cx="584.1" cy="329.1" r="2.50"/><circle cx="439.1" cy="429.8" r="2.50"/><circle cx="571.4" cy="338.8" r="2.50"/><circle cx="441.7" cy="425.7" r="2.50"/><circle cx="437.7" cy="430.0" r="2.50"/><circle cx="528.9" cy="363.3" r="2.50"/><circle cx="552.2" cy="350.8" r="2.50"/><circle cx="485.1" cy="385.0" r="2.50"/><circle cx="546.1" cy="351.2" r="2.50"/><circle cx="447.8" cy="410.6" r="2.50"/><circle cx="433.9" cy="421.8" r="2.50"/><circle cx="495.5" cy="383.0" r="2.50"/><circle cx="600.9" cy="316.8" r="2.50"/><circle cx="539.8" cy="355.0" r="2.50"/><circle cx="503.7" cy="376.4" r="2.50"/><circle cx="481.0" cy="390.8" r="2.50"/><circle cx="594.6" cy="321.8" r="2.50"/><circle cx="466.6" cy="398.5" r="2.50"/><circle cx="642.1" cy="282.1" r="2.50"/><circle cx="614.9" cy="306.2" r="2.50"/><circle cx="538.6" cy="361.3" r="2.50"/><circle cx="514.6" cy="373.2" r="2.50"/><circle cx="584.0" cy="333.3" r="2.50"/><circle cx="502.7" cy="380.9" r="2.50"/><circle cx="588.4" cy="327.8" r="2.50"/><circle cx="517.3" cy="370.4" r="2.50"/><circle cx="434.8" cy="420.2" r="2.50"/><circle cx="438.7" cy="427.2" r="2.50"/><circle cx="482.2" cy="390.5" r="2.50"/><circle cx="441.9" cy="425.3" r="2.50"/><circle cx="627.0" cy="298.6" r="2.50"/><circle cx="488.4" cy="386.0" r="2.50"/><circle cx="491.0" cy="386.1" r="2.50"/><circle cx="459.1" cy="405.0" r="2.50"/><circle cx="484.0" cy="396.8" r="2.50"/><circle cx="651.1" cy="284.9" r="2.50"/><circle cx="479.6" cy="400.1" r="2.50"/><circle cx="494.9" cy="383.7" r="2.50"/><circle cx="422.3" cy="433.2" r="2.50"/><circle cx="533.8" cy="362.0" r="2.50"/><circle cx="469.3" cy="398.6" r="2.50"/><circle cx="423.2" cy="432.2" r="2.50"/><circle cx="443.1" cy="417.6" r="2.50"/><circle cx="431.8" cy="419.6" r="2.50"/><circle cx="493.6" cy="382.5" r="2.50"/><circle cx="559.9" cy="344.5" r="2.50"/><circle cx="598.8" cy="320.1" r="2.50"/><circle cx="590.6" cy="327.2" r="2.50"/><circle cx="513.7" cy="372.5" r="2.50"/><circle cx="653.9" cy="281.0" r="2.50"/><circle cx="592.5" cy="323.2" r="2.50"/><circle cx="432.3" cy="433.1" r="2.50"/><circle cx="632.1" cy="296.0" r="2.50"/><circle cx="594.8" cy="322.7" r="2.50"/><circle cx="454.8" cy="409.0" r="2.50"/><circle cx="540.8" cy="360.1" r="2.50"/><circle cx="611.5" cy="311.1" r="2.50"/><circle cx="559.5" cy="347.4" r="2.50"/><circle cx="582.8" cy="331.9" r="2.50"/><circle cx="476.2" cy="391.3" r="2.50"/><circle cx="453.3" cy="407.6" r="2.50"/><circle cx="446.7" cy="420.0" r="2.50"/><circle cx="553.5" cy="348.2" r="2.50"/><circle cx="569.5" cy="339.3" r="2.50"/><circle cx="537.2" cy="355.1" r="2.50"/><circle cx="609.9" cy="311.8" r="2.50"/><circle cx="540.4" cy="357.7" r="2.50"/><circle cx="577.3" cy="330.3" r="2.50"/><circle cx="595.5" cy="320.2" r="2.50"/><circle cx="439.5" cy="419.2" r="2.50"/><circle cx="593.8" cy="321.0" r="2.50"/><circle cx="596.2" cy="322.8" r="2.50"/><circle cx="538.3" cy="357.7" r="2.50"/><circle cx="534.8" cy="363.2" r="2.50"/><circle cx="602.6" cy="317.3" r="2.50"/><circle cx="573.4" cy="332.6" r="2.50"/><circle cx="456.7" cy="403.6" r="2.50"/><circle cx="597.0" cy="319.5" r="2.50"/><circle cx="555.7" cy="343.3" r="2.50"/><circle cx="436.3" cy="421.7" r="2.50"/><circle cx="580.3" cy="333.0" r="2.50"/><circle cx="581.1" cy="329.8" r="2.50"/><circle cx="543.6" cy="355.1" r="2.50"/><circle cx="531.8" cy="359.6" r="2.50"/><circle cx="632.5" cy="290.5" r="2.50"/><circle cx="652.3" cy="283.2" r="2.50"/><circle cx="426.1" cy="431.9" r="2.50"/><circle cx="615.1" cy="308.8" r="2.50"/><circle cx="527.8" cy="363.3" r="2.50"/><circle cx="471.4" cy="403.2" r="2.50"/><circle cx="471.6" cy="399.2" r="2.50"/><circle cx="455.4" cy="408.7" r="2.50"/><circle cx="646.4" cy="283.9" r="2.50"/><circle cx="615.2" cy="306.4" r="2.50"/><circle cx="630.9" cy="297.3" r="2.50"/><circle cx="476.5" cy="401.5" r="2.50"/><circle cx="536.5" cy="355.8" r="2.50"/><circle cx="422.8" cy="433.5" r="2.50"/><circle cx="528.2" cy="363.4" r="2.50"/><circle cx="455.1" cy="406.0" r="2.50"/><circle cx="496.4" cy="385.6" r="2.50"/><circle cx="422.4" cy="434.6" r="2.50"/><circle cx="619.6" cy="300.3" r="2.50"/><circle cx="640.2" cy="293.1" r="2.50"/><circle cx="634.3" cy="290.9" r="2.50"/><circle cx="509.7" cy="375.7" r="2.50"/><circle cx="657.2" cy="279.2" r="2.50"/><circle cx="506.9" cy="377.7" r="2.50"/><circle cx="486.8" cy="383.7" r="2.50"/><circle cx="446.0" cy="420.8" r="2.50"/><circle cx="489.3" cy="394.0" r="2.50"/><circle cx="480.7" cy="393.1" r="2.50"/><circle cx="542.3" cy="353.5" r="2.50"/><circle cx="509.9" cy="379.5" r="2.50"/><circle cx="630.2" cy="298.8" r="2.50"/><circle cx="570.6" cy="340.3" r="2.50"/><circle cx="643.5" cy="289.3" r="2.50"/><circle cx="591.5" cy="321.8" r="2.50"/><circle cx="594.5" cy="321.5" r="2.50"/><circle cx="599.3" cy="319.7" r="2.50"/><circle cx="489.4" cy="382.4" r="2.50"/><circle cx="640.3" cy="283.1" r="2.50"/><circle cx="533.2" cy="360.9" r="2.50"/><circle cx="492.1" cy="388.8" r="2.50"/><circle cx="651.9" cy="283.3" r="2.50"/><circle cx="576.5" cy="332.1" r="2.50"/><circle cx="553.2" cy="347.1" r="2.50"/><circle cx="461.4" cy="398.8" r="2.50"/><circle cx="471.0" cy="402.9" r="2.50"/><circle cx="539.1" cy="355.8" r="2.50"/><circle cx="635.4" cy="299.7" r="2.50"/><circle cx="528.0" cy="362.2" r="2.50"/><circle cx="467.3" cy="393.4" r="2.50"/><circle cx="502.5" cy="377.4" r="2.50"/><circle cx="478.3" cy="394.3" r="2.50"/><circle cx="556.1" cy="348.5" r="2.50"/><circle cx="598.5" cy="319.0" r="2.50"/><circle cx="519.5" cy="370.3" r="2.50"/><circle cx="510.8" cy="374.6" r="2.50"/><circle cx="436.6" cy="421.6" r="2.50"/><circle cx="649.9" cy="284.0" r="2.50"/><circle cx="540.5" cy="358.4" r="2.50"/><circle cx="625.2" cy="294.8" r="2.50"/><circle cx="485.8" cy="386.5" r="2.50"/><circle cx="516.1" cy="371.8" r="2.50"/><circle cx="646.7" cy="293.3" r="2.50"/><circle cx="627.6" cy="291.0" r="2.50"/><circle cx="429.6" cy="432.7" r="2.50"/><circle cx="632.9" cy="293.7" r="2.50"/><circle cx="560.3" cy="340.2" r="2.50"/><circle cx="514.2" cy="376.2" r="2.50"/><circle cx="616.4" cy="307.0" r="2.50"/><circle cx="651.0" cy="284.2" r="2.50"/><circle cx="447.7" cy="410.6" r="2.50"/><circle cx="545.0" cy="356.2" r="2.50"/><circle cx="643.7" cy="292.2" r="2.50"/><circle cx="574.5" cy="336.3" r="2.50"/><circle cx="529.7" cy="364.6" r="2.50"/><circle cx="431.3" cy="432.8" r="2.50"/><circle cx="476.8" cy="401.8" r="2.50"/><circle cx="574.0" cy="333.7" r="2.50"/><circle cx="452.1" cy="407.1" r="2.50"/><circle cx="571.8" cy="337.8" r="2.50"/><circle cx="448.4" cy="409.2" r="2.50"/><circle cx="545.5" cy="354.6" r="2.50"/><circle cx="513.4" cy="372.0" r="2.50"/><circle cx="563.5" cy="338.2" r="2.50"/><circle cx="493.0" cy="384.8" r="2.50"/><circle cx="647.8" cy="290.4" r="2.50"/><circle cx="630.1" cy="294.8" r="2.50"/><circle cx="477.3" cy="394.0" r="2.50"/><circle cx="648.2" cy="290.5" r="2.50"/><circle cx="494.4" cy="381.0" r="2.50"/><circle cx="539.4" cy="359.5" r="2.50"/><circle cx="520.9" cy="367.5" r="2.50"/><circle cx="579.2" cy="335.0" r="2.50"/><circle cx="475.4" cy="391.2" r="2.50"/><circle cx="501.6" cy="379.5" r="2.50"/><circle cx="582.7" cy="328.3" r="2.50"/><circle cx="609.7" cy="311.8" r="2.50"/><circle cx="540.9" cy="354.5" r="2.50"/><circle cx="650.4" cy="284.8" r="2.50"/><circle cx="615.1" cy="305.0" r="2.50"/><circle cx="474.1" cy="400.4" r="2.50"/><circle cx="491.5" cy="392.5" r="2.50"/><circle cx="538.8" cy="355.7" r="2.50"/><circle cx="474.6" cy="396.2" r="2.50"/><circle cx="578.7" cy="335.3" r="2.50"/><circle cx="456.5" cy="406.0" r="2.50"/><circle cx="472.1" cy="403.4" r="2.50"/><circle cx="455.4" cy="401.3" r="2.50"/><circle cx="436.2" cy="423.8" r="2.50"/><circle cx="633.5" cy="298.8" r="2.50"/><circle cx="594.6" cy="323.6" r="2.50"/><circle cx="641.4" cy="286.1" r="2.50"/><circle cx="465.7" cy="406.0" r="2.50"/><circle cx="597.8" cy="317.8" r="2.50"/><circle cx="578.5" cy="331.7" r="2.50"/><circle cx="510.0" cy="375.0" r="2.50"/><circle cx="461.9" cy="395.8" r="2.50"/><circle cx="487.9" cy="387.4" r="2.50"/><circle cx="647.0" cy="284.0" r="2.50"/><circle cx="649.1" cy="284.7" r="2.50"/><circle cx="506.0" cy="380.8" r="2.50"/><circle cx="615.6" cy="305.8" r="2.50"/><circle cx="433.6" cy="426.4" r="2.50"/><circle cx="509.8" cy="379.4" r="2.50"/><circle cx="467.5" cy="396.9" r="2.50"/><circle cx="633.2" cy="288.0" r="2.50"/><circle cx="518.7" cy="372.8" r="2.50"/><circle cx="602.6" cy="313.9" r="2.50"/><circle cx="430.2" cy="422.7" r="2.50"/><circle cx="638.7" cy="286.8" r="2.50"/><circle cx="598.0" cy="321.6" r="2.50"/><circle cx="501.9" cy="378.6" r="2.50"/><circle cx="647.5" cy="290.1" r="2.50"/><circle cx="483.7" cy="394.0" r="2.50"/><circle cx="496.5" cy="382.1" r="2.50"/><circle cx="422.9" cy="434.7" r="2.50"/><circle cx="637.8" cy="293.6" r="2.50"/><circle cx="644.1" cy="281.0" r="2.50"/><circle cx="477.1" cy="396.6" r="2.50"/><circle cx="647.3" cy="294.4" r="2.50"/><circle cx="513.0" cy="372.4" r="2.50"/><circle cx="523.3" cy="367.8" r="2.50"/><circle cx="640.6" cy="283.9" r="2.50"/><circle cx="611.0" cy="310.8" r="2.50"/><circle cx="615.8" cy="307.2" r="2.50"/><circle cx="565.0" cy="339.2" r="2.50"/><circle cx="497.3" cy="382.2" r="2.50"/><circle cx="606.2" cy="309.0" r="2.50"/><circle cx="468.5" cy="401.6" r="2.50"/><circle cx="480.2" cy="392.2" r="2.50"/><circle cx="430.0" cy="430.2" r="2.50"/><circle cx="498.7" cy="384.6" r="2.50"/><circle cx="630.1" cy="301.0" r="2.50"/><circle cx="484.4" cy="384.4" r="2.50"/><circle cx="444.7" cy="417.5" r="2.50"/><circle cx="589.2" cy="326.1" r="2.50"/><circle cx="477.2" cy="396.0" r="2.50"/><circle cx="568.1" cy="339.9" r="2.50"/><circle cx="598.1" cy="321.3" r="2.50"/><circle cx="578.5" cy="330.0" r="2.50"/><circle cx="620.0" cy="300.9" r="2.50"/><circle cx="555.5" cy="345.6" r="2.50"/><circle cx="595.8" cy="319.8" r="2.50"/><circle cx="480.3" cy="393.4" r="2.50"/><circle cx="458.1" cy="412.6" r="2.50"/><circle cx="558.2" cy="343.9" r="2.50"/><circle cx="515.3" cy="376.1" r="2.50"/><circle cx="541.5" cy="354.4" r="2.50"/><circle cx="612.4" cy="309.1" r="2.50"/><circle cx="655.4" cy="280.3" r="2.50"/><circle cx="533.8" cy="364.9" r="2.50"/><circle cx="620.0" cy="304.8" r="2.50"/><circle cx="431.5" cy="424.3" r="2.50"/><circle cx="450.1" cy="408.6" r="2.50"/><circle cx="651.1" cy="284.9" r="2.50"/><circle cx="641.1" cy="287.0" r="2.50"/><circle cx="626.0" cy="296.8" r="2.50"/><circle cx="483.2" cy="395.3" r="2.50"/><circle cx="644.7" cy="282.6" r="2.50"/><circle cx="562.4" cy="343.1" r="2.50"/><circle cx="473.3" cy="396.2" r="2.50"/><circle cx="455.3" cy="403.8" r="2.50"/><circle cx="482.0" cy="394.5" r="2.50"/><circle cx="575.5" cy="332.1" r="2.50"/><circle cx="424.7" cy="431.8" r="2.50"/><circle cx="581.7" cy="328.7" r="2.50"/><circle cx="495.5" cy="382.3" r="2.50"/><circle cx="609.3" cy="310.2" r="2.50"/><circle cx="436.9" cy="418.6" r="2.50"/><circle cx="515.1" cy="373.1" r="2.50"/><circle cx="572.5" cy="333.2" r="2.50"/><circle cx="460.5" cy="408.0" r="2.50"/><circle cx="518.5" cy="369.2" r="2.50"/><circle cx="494.4" cy="388.3" r="2.50"/><circle cx="495.6" cy="384.6" r="2.50"/><circle cx="506.1" cy="377.9" r="2.50"/><circle cx="625.5" cy="302.8" r="2.50"/><circle cx="507.7" cy="375.5" r="2.50"/><circle cx="593.5" cy="321.1" r="2.50"/><circle cx="423.4" cy="435.6" r="2.50"/><circle cx="521.8" cy="371.1" r="2.50"/><circle cx="517.7" cy="373.9" r="2.50"/><circle cx="530.5" cy="360.8" r="2.50"/><circle cx="425.5" cy="433.1" r="2.50"/><circle cx="572.9" cy="338.5" r="2.50"/><circle cx="443.0" cy="421.0" r="2.50"/><circle cx="509.3" cy="376.7" r="2.50"/><circle cx="456.4" cy="404.3" r="2.50"/><circle cx="544.7" cy="358.6" r="2.50"/><circle cx="447.6" cy="414.8" r="2.50"/><circle cx="611.5" cy="312.2" r="2.50"/><circle cx="468.5" cy="394.1" r="2.50"/><circle cx="644.1" cy="296.1" r="2.50"/><circle cx="535.7" cy="356.6" r="2.50"/><circle cx="640.1" cy="287.6" r="2.50"/><circle cx="634.9" cy="294.9" r="2.50"/><circle cx="616.2" cy="304.4" r="2.50"/><circle cx="607.1" cy="308.8" r="2.50"/><circle cx="517.3" cy="373.9" r="2.50"/><circle cx="617.3" cy="303.3" r="2.50"/><circle cx="473.4" cy="396.5" r="2.50"/><circle cx="544.0" cy="354.2" r="2.50"/><circle cx="451.0" cy="408.2" r="2.50"/><circle cx="592.7" cy="324.0" r="2.50"/><circle cx="431.7" cy="428.8" r="2.50"/><circle cx="600.4" cy="315.7" r="2.50"/><circle cx="619.4" cy="300.5" r="2.50"/><circle cx="563.2" cy="341.9" r="2.50"/><circle cx="569.7" cy="336.4" r="2.50"/><circle cx="520.9" cy="369.9" r="2.50"/><circle cx="522.3" cy="369.6" r="2.50"/><circle cx="527.2" cy="365.1" r="2.50"/><circle cx="427.5" cy="432.7" r="2.50"/><circle cx="537.3" cy="357.2" r="2.50"/><circle cx="601.8" cy="318.9" r="2.50"/><circle cx="529.9" cy="361.3" r="2.50"/><circle cx="533.4" cy="358.5" r="2.50"/><circle cx="452.3" cy="409.5" r="2.50"/><circle cx="443.6" cy="417.8" r="2.50"/><circle cx="542.1" cy="352.3" r="2.50"/><circle cx="571.9" cy="333.5" r="2.50"/><circle cx="594.7" cy="322.6" r="2.50"/><circle cx="542.5" cy="352.2" r="2.50"/><circle cx="540.7" cy="356.2" r="2.50"/><circle cx="645.9" cy="283.7" r="2.50"/><circle cx="623.8" cy="303.5" r="2.50"/><circle cx="594.4" cy="322.9" r="2.50"/><circle cx="467.6" cy="404.6" r="2.50"/><circle cx="537.8" cy="363.0" r="2.50"/><circle cx="637.7" cy="286.9" r="2.50"/><circle cx="607.7" cy="315.3" r="2.50"/><circle cx="437.4" cy="422.2" r="2.50"/><circle cx="600.1" cy="316.6" r="2.50"/><circle cx="633.1" cy="291.2" r="2.50"/><circle cx="614.1" cy="304.9" r="2.50"/><circle cx="540.3" cy="361.1" r="2.50"/><circle cx="471.1" cy="396.0" r="2.50"/><circle cx="541.2" cy="355.3" r="2.50"/><circle cx="430.7" cy="423.7" r="2.50"/><circle cx="460.0" cy="412.2" r="2.50"/><circle cx="582.1" cy="333.9" r="2.50"/><circle cx="461.7" cy="408.5" r="2.50"/><circle cx="449.1" cy="413.9" r="2.50"/><circle cx="571.9" cy="335.4" r="2.50"/><circle cx="627.6" cy="297.0" r="2.50"/><circle cx="558.6" cy="347.7" r="2.50"/><circle cx="446.6" cy="422.1" r="2.50"/><circle cx="570.3" cy="336.7" r="2.50"/><circle cx="609.9" cy="307.2" r="2.50"/><circle cx="655.3" cy="280.3" r="2.50"/><circle cx="506.8" cy="380.3" r="2.50"/><circle cx="526.2" cy="363.6" r="2.50"/><circle cx="597.1" cy="318.4" r="2.50"/><circle cx="615.1" cy="305.2" r="2.50"/><circle cx="572.5" cy="339.2" r="2.50"/><circle cx="560.0" cy="345.5" r="2.50"/><circle cx="495.6" cy="381.0" r="2.50"/><circle cx="430.0" cy="424.4" r="2.50"/><circle cx="567.1" cy="338.8" r="2.50"/><circle cx="542.7" cy="359.5" r="2.50"/><circle cx="453.1" cy="406.0" r="2.50"/><circle cx="575.8" cy="330.8" r="2.50"/><circle cx="422.6" cy="433.0" r="2.50"/><circle cx="447.0" cy="413.6" r="2.50"/><circle cx="474.8" cy="398.1" r="2.50"/><circle cx="560.7" cy="341.5" r="2.50"/><circle cx="568.9" cy="338.0" r="2.50"/><circle cx="453.7" cy="415.8" r="2.50"/><circle cx="479.4" cy="393.1" r="2.50"/><circle cx="444.6" cy="419.6" r="2.50"/><circle cx="627.2" cy="299.7" r="2.50"/><circle cx="516.7" cy="370.2" r="2.50"/><circle cx="424.7" cy="434.2" r="2.50"/><circle cx="554.4" cy="346.0" r="2.50"/><circle cx="574.0" cy="334.5" r="2.50"/><circle cx="642.7" cy="292.6" r="2.50"/><circle cx="480.5" cy="398.0" r="2.50"/><circle cx="432.4" cy="428.0" r="2.50"/><circle cx="517.6" cy="369.4" r="2.50"/><circle cx="435.7" cy="430.4" r="2.50"/><circle cx="424.9" cy="433.4" r="2.50"/><circle cx="643.6" cy="282.6" r="2.50"/><circle cx="469.0" cy="399.8" r="2.50"/><circle cx="541.4" cy="358.0" r="2.50"/><circle cx="613.6" cy="305.2" r="2.50"/><circle cx="494.9" cy="383.3" r="2.50"/><circle cx="433.4" cy="433.5" r="2.50"/><circle cx="606.4" cy="314.4" r="2.50"/><circle cx="423.5" cy="435.3" r="2.50"/><circle cx="597.5" cy="319.9" r="2.50"/><circle cx="596.7" cy="320.4" r="2.50"/><circle cx="475.2" cy="392.1" r="2.50"/><circle cx="476.7" cy="391.5" r="2.50"/><circle cx="501.0" cy="381.5" r="2.50"/><circle cx="585.7" cy="331.1" r="2.50"/><circle cx="589.6" cy="324.5" r="2.50"/><circle cx="552.4" cy="347.9" r="2.50"/><circle cx="607.7" cy="310.9" r="2.50"/><circle cx="484.5" cy="392.1" r="2.50"/><circle cx="649.3" cy="284.7" r="2.50"/><circle cx="629.3" cy="289.7" r="2.50"/><circle cx="483.3" cy="389.4" r="2.50"/><circle cx="597.2" cy="322.2" r="2.50"/><circle cx="597.7" cy="319.2" r="2.50"/><circle cx="629.3" cy="293.4" r="2.50"/><circle cx="478.3" cy="401.3" r="2.50"/><circle cx="570.5" cy="338.7" r="2.50"/><circle cx="578.7" cy="335.5" r="2.50"/><circle cx="532.6" cy="365.7" r="2.50"/><circle cx="586.3" cy="330.8" r="2.50"/><circle cx="525.0" cy="368.6" r="2.50"/><circle cx="556.3" cy="344.8" r="2.50"/><circle cx="471.9" cy="399.6" r="2.50"/><circle cx="440.3" cy="428.0" r="2.50"/><circle cx="456.1" cy="400.5" r="2.50"/><circle cx="447.1" cy="420.7" r="2.50"/><circle cx="503.2" cy="377.3" r="2.50"/><circle cx="428.8" cy="424.8" r="2.50"/><circle cx="585.1" cy="330.0" r="2.50"/><circle cx="586.1" cy="330.0" r="2.50"/><circle cx="437.5" cy="425.9" r="2.50"/><circle cx="507.6" cy="380.3" r="2.50"/><circle cx="615.0" cy="308.5" r="2.50"/><circle cx="437.5" cy="430.2" r="2.50"/><circle cx="637.3" cy="298.3" r="2.50"/><circle cx="447.2" cy="411.5" r="2.50"/><circle cx="448.4" cy="408.8" r="2.50"/><circle cx="621.6" cy="303.0" r="2.50"/><circle cx="571.3" cy="339.1" r="2.50"/><circle cx="570.7" cy="335.6" r="2.50"/><circle cx="445.5" cy="411.2" r="2.50"/><circle cx="600.4" cy="316.7" r="2.50"/><circle cx="497.2" cy="382.6" r="2.50"/><circle cx="426.9" cy="429.2" r="2.50"/><circle cx="488.6" cy="391.7" r="2.50"/><circle cx="508.7" cy="375.8" r="2.50"/><circle cx="649.0" cy="287.3" r="2.50"/><circle cx="622.5" cy="300.9" r="2.50"/><circle cx="429.3" cy="429.0" r="2.50"/><circle cx="524.8" cy="369.1" r="2.50"/><circle cx="503.7" cy="380.2" r="2.50"/><circle cx="548.7" cy="349.0" r="2.50"/><circle cx="625.1" cy="293.7" r="2.50"/><circle cx="615.1" cy="304.8" r="2.50"/><circle cx="422.3" cy="432.5" r="2.50"/><circle cx="601.5" cy="320.3" r="2.50"/><circle cx="423.0" cy="433.4" r="2.50"/><circle cx="537.7" cy="361.7" r="2.50"/><circle cx="465.5" cy="399.7" r="2.50"/><circle cx="503.8" cy="380.9" r="2.50"/><circle cx="483.4" cy="397.0" r="2.50"/><circle cx="488.8" cy="385.3" r="2.50"/><circle cx="586.7" cy="328.0" r="2.50"/><circle cx="447.9" cy="416.3" r="2.50"/><circle cx="441.0" cy="425.4" r="2.50"/><circle cx="586.2" cy="330.4" r="2.50"/><circle cx="569.9" cy="336.7" r="2.50"/><circle cx="516.5" cy="371.2" r="2.50"/><circle cx="631.7" cy="289.4" r="2.50"/><circle cx="631.2" cy="288.8" r="2.50"/><circle cx="470.5" cy="395.9" r="2.50"/><circle cx="634.2" cy="293.6" r="2.50"/><circle cx="511.3" cy="377.9" r="2.50"/><circle cx="477.0" cy="396.5" r="2.50"/><circle cx="547.2" cy="353.2" r="2.50"/><circle cx="599.3" cy="319.7" r="2.50"/><circle cx="504.1" cy="378.0" r="2.50"/><circle cx="458.6" cy="411.6" r="2.50"/><circle cx="577.9" cy="334.2" r="2.50"/><circle cx="461.9" cy="402.8" r="2.50"/><circle cx="604.1" cy="315.9" r="2.50"/><circle cx="451.7" cy="410.3" r="2.50"/><circle cx="630.4" cy="291.8" r="2.50"/><circle cx="467.1" cy="396.1" r="2.50"/><polyline points="411.3,436.4 669.6,269.0" fill="none" stroke="#999" stroke-width="1.2" stroke-dasharray="4 2"/><rect x="398.6" y="261.5" width="283.7" height="199.8" fill="none" stroke="#6a6a6a" stroke-width="1.4"/><line x1="414.2" y1="461.3" x2="414.2" y2="463.9" stroke="#6a6a6a" stroke-width="1.2"/><text x="414.2" y="476.5" font-size="14" text-anchor="middle">0</text><line x1="485.7" y1="461.3" x2="485.7" y2="463.9" stroke="#6a6a6a" stroke-width="1.2"/><text x="485.7" y="476.5" font-size="14" text-anchor="middle">4</text><line x1="557.2" y1="461.3" x2="557.2" y2="463.9" stroke="#6a6a6a" stroke-width="1.2"/><text x="557.2" y="476.5" font-size="14" text-anchor="middle">8</text><line x1="628.8" y1="461.3" x2="628.8" y2="463.9" stroke="#6a6a6a" stroke-width="1.2"/><text x="628.8" y="476.5" font-size="14" text-anchor="middle">12</text><line x1="395.6" y1="435.2" x2="398.6" y2="435.2" stroke="#6a6a6a" stroke-width="1.2"/><text x="393.1" y="440.0" font-size="14" text-anchor="end">0</text><line x1="395.6" y1="389.1" x2="398.6" y2="389.1" stroke="#6a6a6a" stroke-width="1.2"/><text x="393.1" y="393.9" font-size="14" text-anchor="end">4</text><line x1="395.6" y1="343.0" x2="398.6" y2="343.0" stroke="#6a6a6a" stroke-width="1.2"/><text x="393.1" y="347.8" font-size="14" text-anchor="end">8</text><line x1="395.6" y1="296.8" x2="398.6" y2="296.8" stroke="#6a6a6a" stroke-width="1.2"/><text x="393.1" y="301.6" font-size="14" text-anchor="end">12</text><text x="540.6" y="493.0" font-size="14.50" text-anchor="middle">Observed (°C)</text><text transform="translate(372.0,361.4) rotate(-90)" font-size="14.40" text-anchor="middle">CCI LSWT (°C)</text><text x="414.0" y="286.0" font-size="13.25">r = 0.98</text><text x="414.0" y="301.0" font-size="13.25">Mean bias = -0.11 <tspan dx="-0.8">°</tspan><tspan dx="-0.3">C</tspan></text><text x="414.0" y="316.0" font-size="13.25">RMSE = 0.77 <tspan dx="-0.8">°</tspan><tspan dx="-0.3">C</tspan></text><text x="414.0" y="331.0" font-size="13.25">n = 598</text><text transform="translate(650.6,450.4) scale(0.94,1)" font-size="19" text-anchor="middle">(d)</text></g>
</svg></body></html>
